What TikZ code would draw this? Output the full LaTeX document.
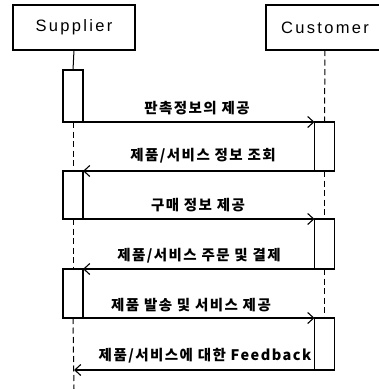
\documentclass[tikz,border=0pt]{standalone}
\usepackage{fontspec}
\setmainfont{Liberation Sans}
\newfontfamily\latf[LetterSpace=14]{Liberation Sans}
\newfontfamily\krf[LetterSpace=10]{Noto Sans CJK KR}
\usetikzlibrary{arrows.meta}
\begin{document}
\begin{tikzpicture}[x=1pt,y=-1pt,
  actor/.style={draw,line width=1.5pt,inner sep=0pt,outer sep=0pt,minimum height=45pt,font=\latf\fontsize{16.5}{18}\selectfont},
  act/.style={draw,line width=1.4pt,fill=white,inner sep=0pt,outer sep=0pt,minimum width=20pt,anchor=north},
  msg/.style={line width=1.2pt,-{Straight Barb[length=6pt,width=11pt,line width=1.1pt]}},
  life/.style={line width=1pt,dash pattern=on 6pt off 3.5pt},
  lbl/.style={font=\krf\bfseries\fontsize{14.5}{16}\selectfont,inner sep=0pt}]
\useasboundingbox (0,0) rectangle (379,389);
\clip (0,0) rectangle (379,389);
\node[actor,minimum width=122pt] (sup) at (74,27.5) {Supplier};
\node[actor,minimum width=118pt] (cus) at (325,27.5) {Customer};
% activations
\node[act,minimum height=52pt] (s1) at (73,70) {};
\node[act,minimum height=49pt] (c1) at (324.5,122) {};
\node[act,minimum height=48pt] (s2) at (73,171) {};
\node[act,minimum height=50pt] (c2) at (324.5,219) {};
\node[act,minimum height=49pt] (s3) at (73,269) {};
\node[act,minimum height=52pt] (c3) at (324.5,318) {};
\coordinate (fb) at (74,370);
\coordinate (send) at (74,389);
% lifelines
\draw[line width=1pt] (sup.south) -- (s1.north);
\draw[life] (s1.south) -- (s2.north);
\draw[life] (s2.south) -- (s3.north);
\draw[life] (s3.south) -- (send);
\draw[life] (cus.south) -- (c1.north);
\draw[life] (c1.south) -- (c2.north);
\draw[life] (c2.south) -- (c3.north);
% messages
\draw[msg] (s1.south east) -- (c1.north west);
\draw[msg] (c1.south west) -- (s2.north east);
\draw[msg] (s2.south east) -- (c2.north west);
\draw[msg] (c2.south west) -- (s3.north east);
\draw[msg] (s3.south east) -- (c3.north west);
\draw[msg] (c3.south west) -- (fb);
% labels
\node[lbl] (l1) at (197,108) {판촉정보의 제공};
\node[lbl] (l2) at (203,156) {제품/서비스 정보 조회};
\node[lbl] (l3) at (198,205) {구매 정보 제공};
\node[lbl] (l4) at (199,256) {제품/서비스 주문 및 결제};
\node[lbl] (l5) at (191,305) {제품 발송 및 서비스 제공};
\node[lbl] (l6) at (205,356) {제품/서비스에 대한 Feedback};
\end{tikzpicture}
\end{document}
